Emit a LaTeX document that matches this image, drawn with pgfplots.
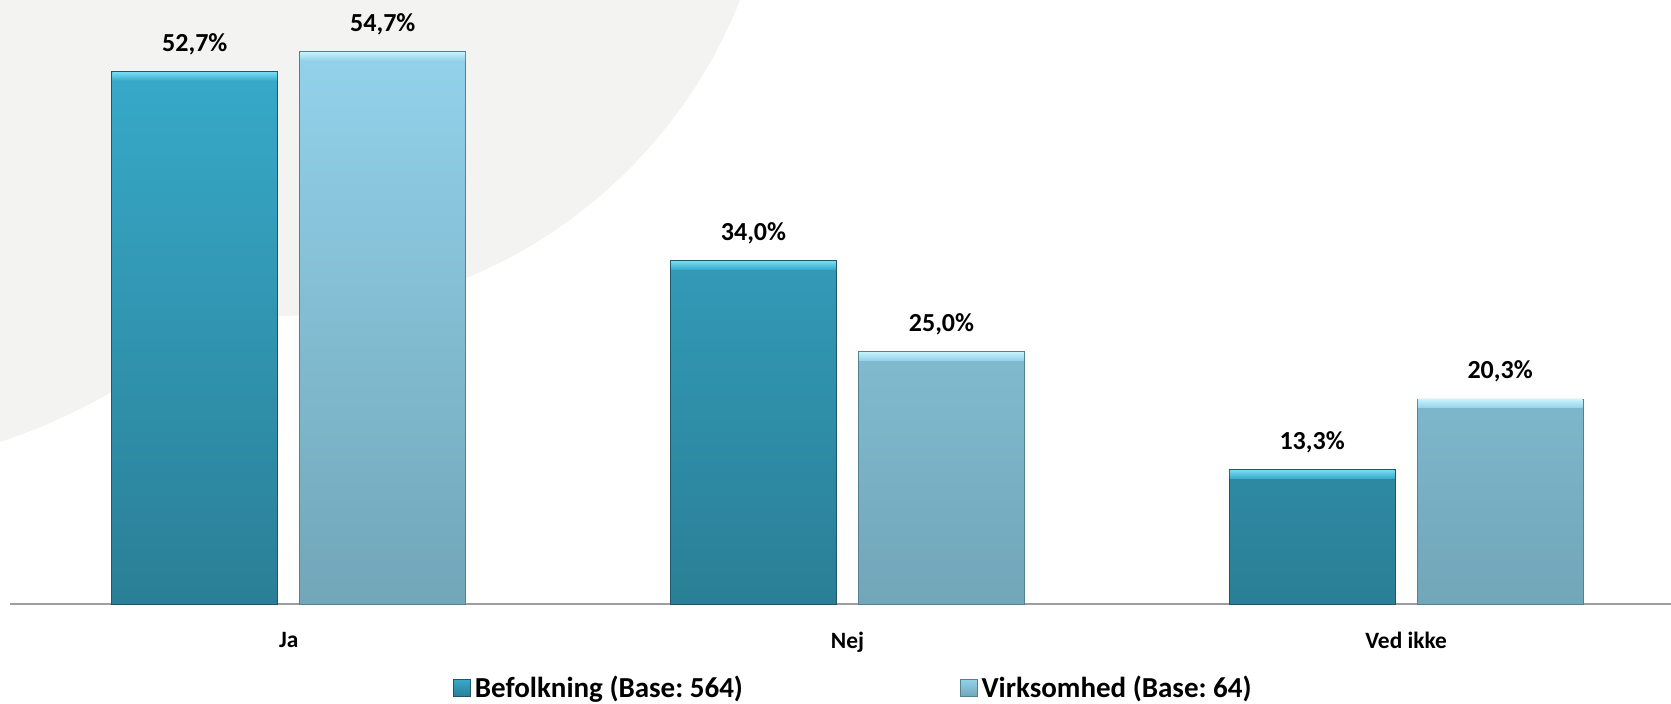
\documentclass[border=0pt]{standalone}
\usepackage{fontspec}
\setmainfont{Carlito}
\usepackage{pgfplots}
\pgfplotsset{compat=1.18}
\frenchspacing
\definecolor{beftop}{HTML}{37A9C9}
\definecolor{befbot}{HTML}{2A7F96}
\definecolor{befhi}{HTML}{72D8EE}
\definecolor{befedge}{HTML}{1E5868}
\definecolor{virtop}{HTML}{92D2EA}
\definecolor{virbot}{HTML}{72A6B9}
\definecolor{virhi}{HTML}{C2F0FB}
\definecolor{viredge}{HTML}{55808F}
\definecolor{bgc}{HTML}{F3F3F1}
\begin{document}
\frenchspacing
\begin{tikzpicture}
\path[use as bounding box] (-4.75pt,-49.5pt) rectangle (830.75pt,302pt);
\begin{scope}
\clip (-4.75pt,-49.5pt) rectangle (830.75pt,302pt);
\fill[bgc] (132.75pt,394pt) circle[radius=250pt];
\fill[bgc] (-98.75pt,366pt) circle[radius=300pt];
\end{scope}
\begin{axis}[
  at={(0,0)}, anchor=south west,
  scale only axis, width=831pt, height=302pt,
  xmin=-0.5, xmax=2.475, ymin=0, ymax=59.8,
  axis x line=bottom, axis y line=none,
  x axis line style={-, draw=black!38, line width=0.9pt},
  xtick={0,1,2}, xticklabels={Ja,Nej,Ved ikke},
  major tick length=0pt,
  xticklabel style={font=\bfseries\fontsize{11.7}{14}\selectfont, yshift=-10.5pt},
  ytick=\empty,
  clip=false,
  ybar,
  bar width=83pt,
  /pgf/number format/assume math mode=true,
  legend columns=2,
  legend style={draw=none, fill=none, font=\bfseries\fontsize{14.5}{17}\selectfont,
    /tikz/every even column/.append style={column sep=106.5pt},
    at={(0.2668,-0.1390)}, anchor=west, inner sep=0pt},
]
\addplot[bar shift=-47pt, top color=beftop, bottom color=befbot, draw=befedge, line width=0.4pt,
  nodes near coords={\pgfmathprintnumber[fixed,fixed zerofill,precision=1,use comma]{\pgfplotspointmeta}\%},
  every node near coord/.append style={font=\bfseries\fontsize{13}{15}\selectfont, text=black, anchor=base, yshift=10pt},
  legend image code/.code={\shade[top color=beftop,bottom color=befbot,draw=befedge,line width=0.3pt] (0pt,-4.25pt) rectangle (8.5pt,4.25pt);}]
  coordinates {(0,52.7) (1,34.0) (2,13.3)};
\addlegendentry{Befolkning (Base: 564)}
\addplot[bar shift=47pt, top color=virtop, bottom color=virbot, draw=viredge, line width=0.4pt,
  nodes near coords={\pgfmathprintnumber[fixed,fixed zerofill,precision=1,use comma]{\pgfplotspointmeta}\%},
  every node near coord/.append style={font=\bfseries\fontsize{13}{15}\selectfont, text=black, anchor=base, yshift=10pt},
  legend image code/.code={\shade[top color=virtop,bottom color=virbot,draw=viredge,line width=0.3pt] (0pt,-4.25pt) rectangle (8.5pt,4.25pt);}]
  coordinates {(0,54.7) (1,25.0) (2,20.3)};
\addlegendentry{Virksomhed (Base: 64)}
\addplot[bar shift=-47pt, draw=none, fill=none, forget plot,
  nodes near coords={},
  every node near coord/.append style={anchor=north, yshift=-0.3pt, minimum width=82.4pt, minimum height=4pt, inner sep=0pt, top color=befhi, bottom color=beftop}]
  coordinates {(0,52.7) (1,34.0) (2,13.3)};
\addplot[bar shift=47pt, draw=none, fill=none, forget plot,
  nodes near coords={},
  every node near coord/.append style={anchor=north, yshift=-0.3pt, minimum width=82.4pt, minimum height=4pt, inner sep=0pt, top color=virhi, bottom color=virtop}]
  coordinates {(0,54.7) (1,25.0) (2,20.3)};
\end{axis}
\end{tikzpicture}
\end{document}
